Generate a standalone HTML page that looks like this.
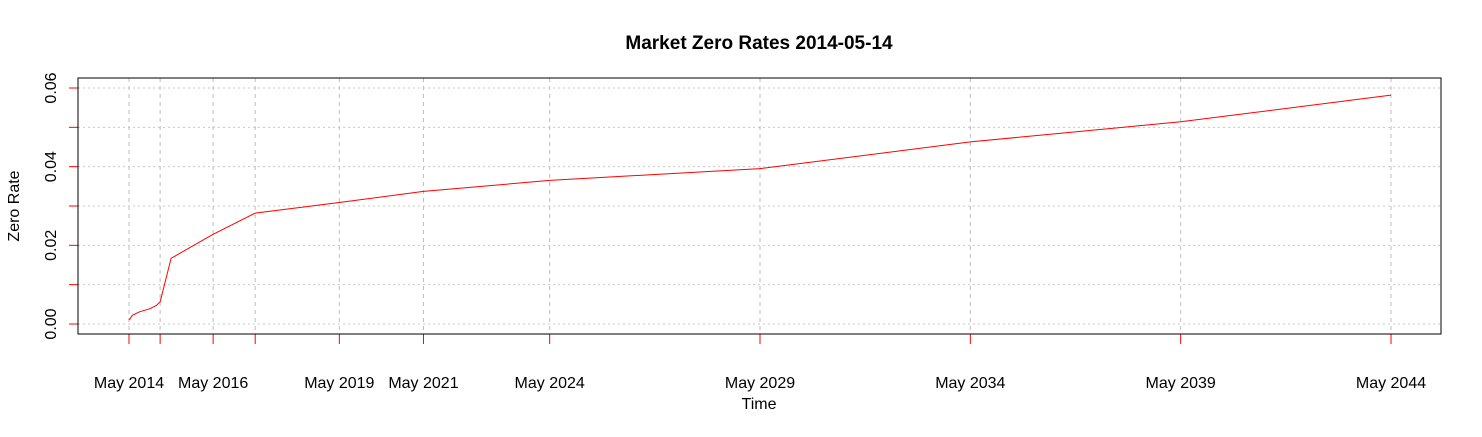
<!DOCTYPE html>
<html><head><meta charset="utf-8"><style>
body{margin:0;background:#fff}
svg text{font-family:"Liberation Sans",Arial,sans-serif}
</style></head><body>
<svg id="chart" width="1482" height="432" viewBox="0 0 1482 432" xmlns="http://www.w3.org/2000/svg">
<rect width="1482" height="432" fill="#fff"/>
<text x="759" y="49" text-anchor="middle" font-size="19" font-weight="bold">Market Zero Rates 2014-05-14</text>
<text x="759" y="409" text-anchor="middle" font-size="16">Time</text>
<text transform="translate(19,206) rotate(-90)" text-anchor="middle" font-size="16">Zero Rate</text>
<g id="grid"></g><g id="ticks"></g>
<path id="line" fill="none" stroke="#ff0000" stroke-width="1"/>
<rect x="78" y="78" width="1363" height="256" fill="none" stroke="#000" stroke-width="1"/>
</svg>
<script>
const times=[0,0.08,0.25,0.5,0.65,0.74,1,2,3,5,7,10,15,20,25,30];
const rates=[0.001,0.0022,0.0031,0.0039,0.0047,0.0056,0.0167,0.0228,0.0282,0.0309,0.0337,0.0365,0.0395,0.0463,0.0514,0.0582];
const xTickTimes=[0,0.74,2,3,5,7,10,15,20,25,30];
const xTickLabels=["May 2014","","May 2016","","May 2019","May 2021","May 2024","May 2029","May 2034","May 2039","May 2044"];
const yGrid=[0,0.01,0.02,0.03,0.04,0.05,0.06];
const yLabels=["0.00","","0.02","","0.04","","0.06"];
const X=t=>129+t*(1391-129)/30;
const Y=v=>324-v*(324-88)/0.06;
const NS="http://www.w3.org/2000/svg";
const g=document.getElementById('grid'),tk=document.getElementById('ticks');
function mk(tag,attrs,parent){const e=document.createElementNS(NS,tag);for(const k in attrs)e.setAttribute(k,attrs[k]);parent.appendChild(e);return e;}
xTickTimes.forEach((t,i)=>{
 const l=mk('line',{x1:X(t),x2:X(t),y1:78,y2:334,stroke:'#bebebe','stroke-dasharray':'4,4'},g);
 
 
 const m=mk('line',{x1:X(t),x2:X(t),y1:334,y2:344,stroke:'#ff0000'},tk);
 
 
 if(xTickLabels[i]){const tx=mk('text',{x:X(t),y:388,'text-anchor':'middle','font-size':'16'},tk);tx.textContent=xTickLabels[i];
 
 }
});
yGrid.forEach((v,i)=>{
 const l=mk('line',{x1:78,x2:1441,y1:Y(v),y2:Y(v),stroke:'#c8c8c8','stroke-dasharray':'2,3'},g);
 
 
 const m=mk('line',{x1:69,x2:78,y1:Y(v),y2:Y(v),stroke:'#ff0000'},tk);
 
 
 if(yLabels[i]){const tx=mk('text',{transform:`translate(56,${Y(v)}) rotate(-90)`,'text-anchor':'middle','font-size':'16'},tk);tx.textContent=yLabels[i];
 
 }
});
document.getElementById('line').setAttribute('d',times.map((t,i)=>(i?'L':'M')+X(t).toFixed(1)+','+Y(rates[i]).toFixed(1)).join(''));
</script>
</body></html>
